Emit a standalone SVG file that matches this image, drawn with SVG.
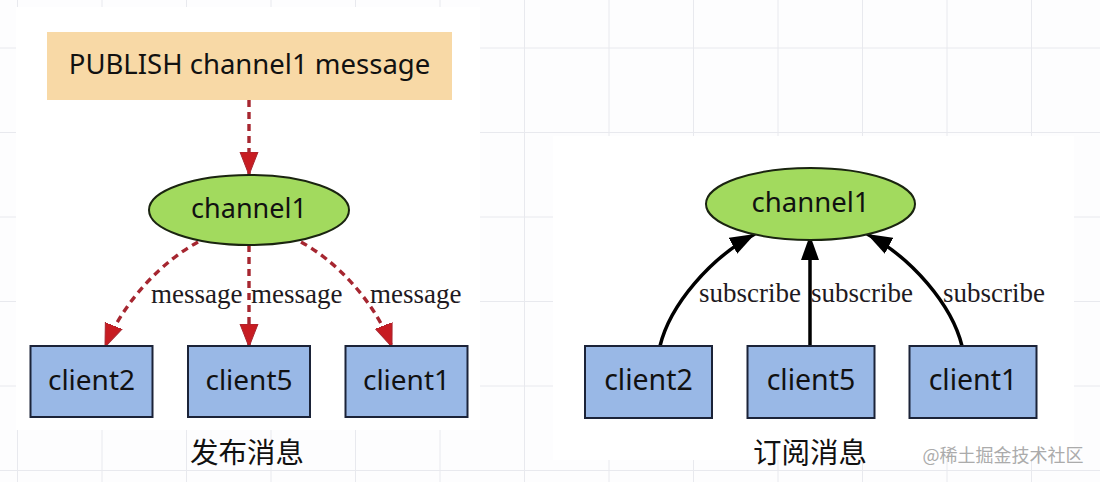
<svg xmlns="http://www.w3.org/2000/svg" width="1100" height="482" viewBox="0 0 1100 482">
<defs>
<style>
.grid{stroke:#e8e9ee;stroke-width:1}
.node text,.cap{font-family:"Noto Sans","Noto Sans CJK SC",sans-serif;fill:#111}
.lbl{font-family:"Liberation Serif","DejaVu Serif",serif;font-size:27px;fill:#1e1a22}
.client rect{fill:#99b8e6;stroke:#1b2338;stroke-width:2}
.chan ellipse{fill:#a2da5e;stroke:#1a2410;stroke-width:2}
.pub{stroke:#a62630;stroke-width:3.4;stroke-dasharray:7 5;fill:none}
.sub{stroke:#000;stroke-width:3.5;fill:none}
.cap{font-size:28.5px;text-anchor:middle}
</style>
<marker id="ar" markerUnits="userSpaceOnUse" markerWidth="24" markerHeight="20" viewBox="0 0 24 20" refX="23" refY="10" orient="auto">
<path d="M0,1 L23,10 L0,19 z" fill="#c71c22" stroke="#a62630" stroke-width="1"/>
</marker>
<marker id="ab" markerUnits="userSpaceOnUse" markerWidth="26" markerHeight="20" viewBox="0 0 26 20" refX="25" refY="10" orient="auto">
<path d="M0,1 L25,10 L0,19 z" fill="#000"/>
</marker>
</defs>
<rect width="1100" height="482" fill="#fdfdfe"/>
<g id="grid">
<path class="grid" d="M17.5,0V482M102,0V482M186.5,0V482M271,0V482M355.5,0V482M440,0V482M524.5,0V482M609,0V482M693.5,0V482M778,0V482M862.5,0V482M947,0V482M1031.5,0V482M0,48H1100M0,132.5H1100M0,217H1100M0,301.5H1100M0,386H1100M0,470.5H1100"/>
</g>
<rect x="16" y="7" width="464" height="423" fill="#fff"/>
<rect x="553" y="136" width="521" height="324" fill="#fff"/>

<g id="connectors">
<path class="pub" d="M249,100 L249,175" marker-end="url(#ar)"/>
<path class="pub" d="M198,242 C165,260 125,298 105,347" marker-end="url(#ar)"/>
<path class="pub" d="M249,245 L249,347" marker-end="url(#ar)"/>
<path class="pub" d="M301,242 C334,260 373,298 392,347" marker-end="url(#ar)"/>
<path class="sub" d="M660,346 C670,305 710,258 755,234" marker-end="url(#ab)"/>
<path class="sub" d="M810,346 L810,235" marker-end="url(#ab)"/>
<path class="sub" d="M962,346 C952,305 912,258 867,234" marker-end="url(#ab)"/>
<text class="lbl" x="151" y="303">message</text>
<text class="lbl" x="251" y="303">message</text>
<text class="lbl" x="370" y="303">message</text>
<text class="lbl" x="699" y="302">subscribe</text>
<text class="lbl" x="811" y="302">subscribe</text>
<text class="lbl" x="943" y="302">subscribe</text>
</g>

<g id="publish" class="node">
<rect x="47" y="32" width="405" height="68" fill="#f8d9a6"/>
<text x="249.5" y="74" font-size="27.5" text-anchor="middle">PUBLISH channel1 message</text>
</g>
<g id="channel1-pub" class="node chan">
<ellipse cx="249" cy="210" rx="100" ry="35"/>
<text x="249" y="218" font-size="27" text-anchor="middle">channel1</text>
</g>
<g id="client2-pub" class="node client">
<rect x="30.5" y="346" width="122" height="71"/>
<text x="91.5" y="390" font-size="28" text-anchor="middle">client2</text>
</g>
<g id="client5-pub" class="node client">
<rect x="188" y="346" width="122" height="71"/>
<text x="249" y="390" font-size="28" text-anchor="middle">client5</text>
</g>
<g id="client1-pub" class="node client">
<rect x="345.5" y="346" width="122" height="71"/>
<text x="406.5" y="390" font-size="28" text-anchor="middle">client1</text>
</g>

<g id="channel1-sub" class="node chan">
<ellipse cx="810.5" cy="204" rx="104.5" ry="36"/>
<text x="810.5" y="212" font-size="27.5" text-anchor="middle">channel1</text>
</g>
<g id="client2-sub" class="node client">
<rect x="585" y="346" width="127" height="72"/>
<text x="648.5" y="390" font-size="28.5" text-anchor="middle">client2</text>
</g>
<g id="client5-sub" class="node client">
<rect x="747.5" y="346" width="127" height="72"/>
<text x="811" y="390" font-size="28.5" text-anchor="middle">client5</text>
</g>
<g id="client1-sub" class="node client">
<rect x="909.5" y="346" width="127" height="72"/>
<text x="973" y="390" font-size="28.5" text-anchor="middle">client1</text>
</g>

<text class="cap" x="247" y="463">发布消息</text>
<text class="cap" x="810" y="463">订阅消息</text>
<text x="1003" y="462" font-family="Noto Sans CJK SC,sans-serif" font-size="18" fill="#ababab" text-anchor="middle">@稀土掘金技术社区</text>
</svg>
